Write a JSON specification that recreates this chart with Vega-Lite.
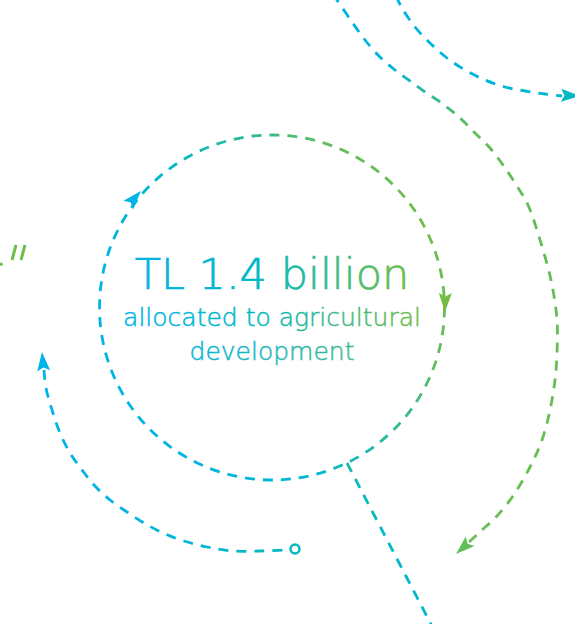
{
  "$schema": "https://vega.github.io/schema/vega-lite/v6.json",
  "width": 575,
  "height": 624,
  "padding": 0,
  "autosize": {"type": "none"},
  "background": "white",
  "config": {"view": {"stroke": null}},
  "datasets": {
    "paths": [
      {"id": "big", "o": 0, "x": 333, "y": -6},
      {"id": "big", "o": 1, "x": 337, "y": 0},
      {"id": "big", "o": 2, "x": 352, "y": 22},
      {"id": "big", "o": 3, "x": 365, "y": 40},
      {"id": "big", "o": 4, "x": 380, "y": 57},
      {"id": "big", "o": 5, "x": 395, "y": 70},
      {"id": "big", "o": 6, "x": 410, "y": 81},
      {"id": "big", "o": 7, "x": 425, "y": 92},
      {"id": "big", "o": 8, "x": 443, "y": 104},
      {"id": "big", "o": 9, "x": 460, "y": 118},
      {"id": "big", "o": 10, "x": 475, "y": 133},
      {"id": "big", "o": 11, "x": 490, "y": 148},
      {"id": "big", "o": 12, "x": 503, "y": 165},
      {"id": "big", "o": 13, "x": 515, "y": 183},
      {"id": "big", "o": 14, "x": 528, "y": 205},
      {"id": "big", "o": 15, "x": 540, "y": 240},
      {"id": "big", "o": 16, "x": 551, "y": 280},
      {"id": "big", "o": 17, "x": 557, "y": 320},
      {"id": "big", "o": 18, "x": 557, "y": 353},
      {"id": "big", "o": 19, "x": 555, "y": 380},
      {"id": "big", "o": 20, "x": 550, "y": 410},
      {"id": "big", "o": 21, "x": 542, "y": 440},
      {"id": "big", "o": 22, "x": 530, "y": 467},
      {"id": "big", "o": 23, "x": 513, "y": 496},
      {"id": "big", "o": 24, "x": 497, "y": 516},
      {"id": "big", "o": 25, "x": 481, "y": 531},
      {"id": "big", "o": 26, "x": 469, "y": 542},
      {"id": "tr", "o": 0, "x": 396, "y": -4},
      {"id": "tr", "o": 1, "x": 402, "y": 8},
      {"id": "tr", "o": 2, "x": 415, "y": 27},
      {"id": "tr", "o": 3, "x": 430, "y": 43},
      {"id": "tr", "o": 4, "x": 447, "y": 58},
      {"id": "tr", "o": 5, "x": 465, "y": 70},
      {"id": "tr", "o": 6, "x": 485, "y": 80},
      {"id": "tr", "o": 7, "x": 505, "y": 87},
      {"id": "tr", "o": 8, "x": 525, "y": 91},
      {"id": "tr", "o": 9, "x": 545, "y": 94},
      {"id": "tr", "o": 10, "x": 562, "y": 96},
      {"id": "left", "o": 0, "x": 44, "y": 370},
      {"id": "left", "o": 1, "x": 46, "y": 388},
      {"id": "left", "o": 2, "x": 52, "y": 410},
      {"id": "left", "o": 3, "x": 60, "y": 433},
      {"id": "left", "o": 4, "x": 70, "y": 453},
      {"id": "left", "o": 5, "x": 82, "y": 470},
      {"id": "left", "o": 6, "x": 95, "y": 486},
      {"id": "left", "o": 7, "x": 110, "y": 500},
      {"id": "left", "o": 8, "x": 127, "y": 512},
      {"id": "left", "o": 9, "x": 144, "y": 523},
      {"id": "left", "o": 10, "x": 163, "y": 533},
      {"id": "left", "o": 11, "x": 184, "y": 541},
      {"id": "left", "o": 12, "x": 207, "y": 547},
      {"id": "left", "o": 13, "x": 233, "y": 551},
      {"id": "left", "o": 14, "x": 260, "y": 551},
      {"id": "left", "o": 15, "x": 283, "y": 550},
      {"id": "left", "o": 16, "x": 290, "y": 549},
      {"id": "bot", "o": 0, "x": 347, "y": 463},
      {"id": "bot", "o": 1, "x": 433, "y": 628},
      {"id": "g1", "o": 0, "x": 16, "y": 245},
      {"id": "g1", "o": 1, "x": 12, "y": 260},
      {"id": "g2", "o": 0, "x": 25, "y": 245},
      {"id": "g2", "o": 1, "x": 21, "y": 260},
      {"id": "g3", "o": 0, "x": 0, "y": 265},
      {"id": "g3", "o": 1, "x": 2.5, "y": 263.5}
    ],
    "circle": [{"x": 272, "y": 307.5}],
    "ends": [{"x": 295, "y": 549}],
    "arrows": [
      {"x": 141, "y": 191, "ang": 42, "c": "#00b4e6"},
      {"x": 445, "y": 312, "ang": 181, "c": "#74bd43"},
      {"x": 456, "y": 554, "ang": 228, "c": "#63be58"},
      {"x": 580, "y": 96, "ang": 92, "c": "#00b8c6"},
      {"x": 42, "y": 352, "ang": 355, "c": "#00b4ea"}
    ],
    "labels": [
      {"k": "t1", "label": "TL 1.4 billion", "x": 272, "y": 289},
      {"k": "t2", "label": "allocated to agricultural", "x": 272, "y": 326},
      {"k": "t3", "label": "development", "x": 272, "y": 360}
    ]
  },
  "encoding": {
    "x": {"field": "x", "type": "quantitative", "scale": {"domain": [0, 575], "nice": false, "zero": false}, "axis": null},
    "y": {"field": "y", "type": "quantitative", "scale": {"domain": [0, 624], "nice": false, "zero": false, "reverse": true}, "axis": null}
  },
  "layer": [
    {
      "data": {"name": "circle"},
      "mark": {
        "type": "point", "shape": "circle", "filled": false, "size": 119025,
        "strokeWidth": 2.8, "strokeDash": [10, 8], "opacity": 1,
        "stroke": {"gradient": "linear", "x1": 0, "y1": 0.75, "x2": 1, "y2": 0.25,
          "stops": [{"offset": 0, "color": "#00b3e8"}, {"offset": 0.4, "color": "#00b7d0"}, {"offset": 0.62, "color": "#27b9a0"}, {"offset": 0.82, "color": "#5fbd5e"}, {"offset": 1, "color": "#72be44"}]}
      }
    },
    {
      "data": {"name": "paths"},
      "transform": [{"filter": "datum.id === 'big'"}],
      "mark": {
        "type": "line", "interpolate": "catmull-rom", "strokeWidth": 2.8, "strokeDash": [10, 8],
        "stroke": {"gradient": "linear", "x1": 0, "y1": 0, "x2": 0, "y2": 1,
          "stops": [{"offset": 0, "color": "#00b2e6"}, {"offset": 0.13, "color": "#00b4de"}, {"offset": 0.18, "color": "#2eb99c"}, {"offset": 0.25, "color": "#62bd5a"}, {"offset": 1, "color": "#69be52"}]}
      },
      "encoding": {"order": {"field": "o", "type": "quantitative"}}
    },
    {
      "data": {"name": "paths"},
      "transform": [{"filter": "datum.id === 'tr'"}],
      "mark": {
        "type": "line", "interpolate": "catmull-rom", "strokeWidth": 2.8, "strokeDash": [10, 8],
        "stroke": {"gradient": "linear", "x1": 0, "y1": 0, "x2": 1, "y2": 0,
          "stops": [{"offset": 0, "color": "#00b3e6"}, {"offset": 0.6, "color": "#00b5da"}, {"offset": 1, "color": "#00b9c6"}]}
      },
      "encoding": {"order": {"field": "o", "type": "quantitative"}}
    },
    {
      "data": {"name": "paths"},
      "transform": [{"filter": "datum.id === 'left'"}],
      "mark": {
        "type": "line", "interpolate": "catmull-rom", "strokeWidth": 2.8, "strokeDash": [10, 8],
        "stroke": {"gradient": "linear", "x1": 0, "y1": 0, "x2": 1, "y2": 0,
          "stops": [{"offset": 0, "color": "#00b4ea"}, {"offset": 0.6, "color": "#00b7d6"}, {"offset": 1, "color": "#00b9bf"}]}
      },
      "encoding": {"order": {"field": "o", "type": "quantitative"}}
    },
    {
      "data": {"name": "paths"},
      "transform": [{"filter": "datum.id === 'bot'"}],
      "mark": {
        "type": "line", "strokeWidth": 2.8, "strokeDash": [10, 8],
        "stroke": {"gradient": "linear", "x1": 0, "y1": 0, "x2": 0, "y2": 1,
          "stops": [{"offset": 0, "color": "#22bba6"}, {"offset": 0.15, "color": "#00bac0"}, {"offset": 1, "color": "#00b9c8"}]}
      },
      "encoding": {"order": {"field": "o", "type": "quantitative"}}
    },
    {
      "data": {"name": "paths"},
      "transform": [{"filter": "datum.id === 'g1' || datum.id === 'g2' || datum.id === 'g3'"}],
      "mark": {"type": "line", "strokeWidth": 3, "color": "#6cbf48"},
      "encoding": {"order": {"field": "o", "type": "quantitative"}, "detail": {"field": "id", "type": "nominal"}}
    },
    {
      "data": {"name": "ends"},
      "mark": {"type": "point", "shape": "circle", "filled": false, "size": 81, "strokeWidth": 2.5, "stroke": "#00b9bd", "opacity": 1}
    },
    {
      "data": {"name": "arrows"},
      "mark": {"type": "point", "shape": "M0,0L0.65,1.9L0,1.55L-0.65,1.9Z", "filled": true, "size": 400, "opacity": 1, "strokeWidth": 0},
      "encoding": {
        "angle": {"field": "ang", "type": "quantitative", "scale": null},
        "color": {"field": "c", "type": "nominal", "scale": null}
      }
    },
    {
      "data": {"name": "labels"},
      "transform": [{"filter": "datum.k === 't1'"}],
      "mark": {
        "type": "text", "font": "DejaVu Sans", "fontWeight": 200, "fontSize": 43, "align": "center", "baseline": "alphabetic",
        "strokeWidth": 0.7,
        "fill": {"gradient": "linear", "x1": 0, "y1": 0, "x2": 1, "y2": 0,
          "stops": [{"offset": 0, "color": "#00b3e6"}, {"offset": 0.45, "color": "#00b8c0"}, {"offset": 0.7, "color": "#3aba8c"}, {"offset": 1, "color": "#6cbd4a"}]},
        "stroke": {"gradient": "linear", "x1": 0, "y1": 0, "x2": 1, "y2": 0,
          "stops": [{"offset": 0, "color": "#00b3e6"}, {"offset": 0.45, "color": "#00b8c0"}, {"offset": 0.7, "color": "#3aba8c"}, {"offset": 1, "color": "#6cbd4a"}]}
      },
      "encoding": {"text": {"field": "label"}}
    },
    {
      "data": {"name": "labels"},
      "transform": [{"filter": "datum.k === 't2'"}],
      "mark": {
        "type": "text", "font": "DejaVu Sans", "fontWeight": 200, "fontSize": 25, "align": "center", "baseline": "alphabetic",
        "strokeWidth": 0.5,
        "fill": {"gradient": "linear", "x1": 0, "y1": 0, "x2": 1, "y2": 0,
          "stops": [{"offset": 0, "color": "#00b3e6"}, {"offset": 0.45, "color": "#00b8c0"}, {"offset": 0.7, "color": "#3aba8c"}, {"offset": 1, "color": "#6cbd4a"}]},
        "stroke": {"gradient": "linear", "x1": 0, "y1": 0, "x2": 1, "y2": 0,
          "stops": [{"offset": 0, "color": "#00b3e6"}, {"offset": 0.45, "color": "#00b8c0"}, {"offset": 0.7, "color": "#3aba8c"}, {"offset": 1, "color": "#6cbd4a"}]}
      },
      "encoding": {"text": {"field": "label"}}
    },
    {
      "data": {"name": "labels"},
      "transform": [{"filter": "datum.k === 't3'"}],
      "mark": {
        "type": "text", "font": "DejaVu Sans", "fontWeight": 200, "fontSize": 25, "align": "center", "baseline": "alphabetic",
        "strokeWidth": 0.5,
        "fill": {"gradient": "linear", "x1": 0, "y1": 0, "x2": 1, "y2": 0,
          "stops": [{"offset": 0, "color": "#00b5dc"}, {"offset": 1, "color": "#3cba90"}]},
        "stroke": {"gradient": "linear", "x1": 0, "y1": 0, "x2": 1, "y2": 0,
          "stops": [{"offset": 0, "color": "#00b5dc"}, {"offset": 1, "color": "#3cba90"}]}
      },
      "encoding": {"text": {"field": "label"}}
    }
  ]
}
